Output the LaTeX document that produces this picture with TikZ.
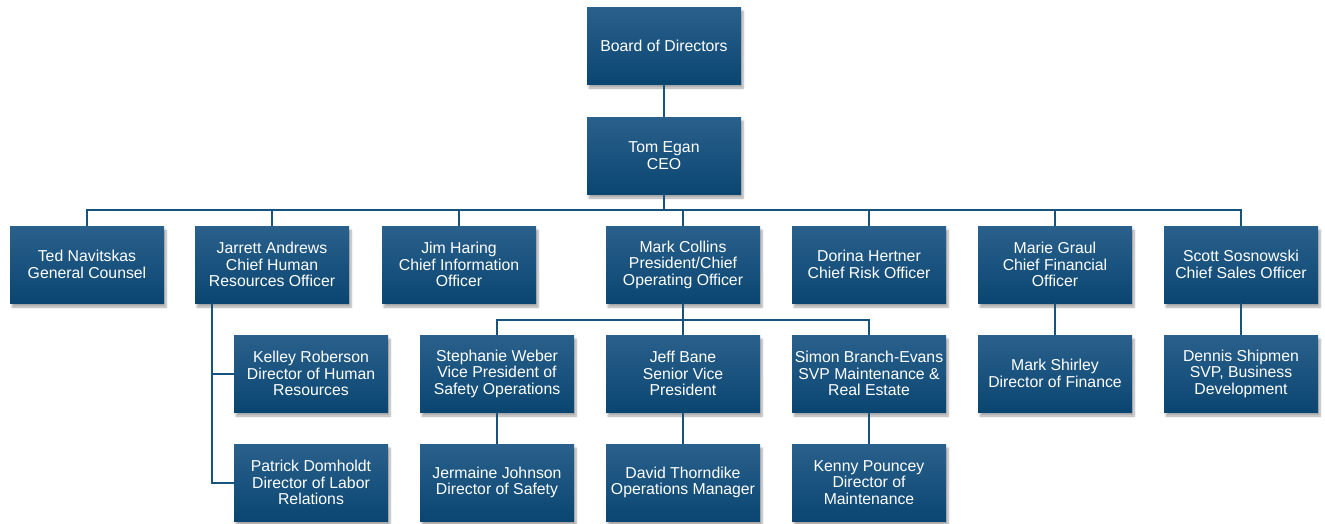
\documentclass[tikz,border=0pt]{standalone}
\usepackage{fontspec}
\setmainfont{Liberation Sans}
\usetikzlibrary{shadows.blur}

\definecolor{boxtop}{RGB}{42,96,140}
\definecolor{boxbottom}{RGB}{10,70,113}
\definecolor{linkblue}{RGB}{22,84,126}

\tikzset{
  staffbox/.style={rectangle, minimum width=154pt, minimum height=77pt,
    inner sep=1pt, align=center, text=white,
    top color=boxtop, bottom color=boxbottom,
    font=\fontsize{15.8}{16.5}\selectfont,
    blur shadow={shadow xshift=2pt, shadow yshift=-4pt, shadow blur steps=6, shadow opacity=35}},
  link/.style={draw=linkblue, line width=2pt}
}

\begin{document}
\begin{tikzpicture}[x=1pt,y=-1pt]

\useasboundingbox (0,0) rectangle (1325,523);

        % draw the top of the chart
        \node[staffbox] (board) at (664,45.5) {Board of Directors};
        \node[staffbox] (ceo)   at (664,155.5) {Tom Egan\\CEO};

        % draw the officers
        \node[staffbox] (ted)     at (87,264.5)   {Ted Navitskas\\General Counsel};
        \node[staffbox] (jarrett) at (272,264.5)  {Jarrett Andrews\\Chief Human\\Resources Officer};
        \node[staffbox] (jim)     at (459,264.5)  {Jim Haring\\Chief Information\\Officer};
        \node[staffbox] (mark)    at (683,264.5)  {Mark Collins\\President/Chief\\Operating Officer};
        \node[staffbox] (dorina)  at (869,264.5)  {Dorina Hertner\\Chief Risk Officer};
        \node[staffbox] (marie)   at (1055,264.5) {Marie Graul\\Chief Financial\\Officer};
        \node[staffbox] (scott)   at (1241,264.5) {Scott Sosnowski\\Chief Sales Officer};

        % draw the third row
        \node[staffbox] (kelley)    at (311,373.5)  {Kelley Roberson\\Director of Human\\Resources};
        \node[staffbox] (stephanie) at (497,373.5)  {Stephanie Weber\\Vice President of\\Safety Operations};
        \node[staffbox] (jeff)      at (683,373.5)  {Jeff Bane\\Senior Vice\\President};
        \node[staffbox] (simon)     at (869,373.5)  {Simon Branch-Evans\\SVP Maintenance \&\\Real Estate};
        \node[staffbox] (mshirley)  at (1055,373.5) {Mark Shirley\\Director of Finance};
        \node[staffbox] (dennis)    at (1241,373.5) {Dennis Shipmen\\SVP, Business\\Development};

        % draw the bottom row
        \node[staffbox] (patrick)  at (311,482.5) {Patrick Domholdt\\Director of Labor\\Relations};
        \node[staffbox] (jermaine) at (497,482.5) {Jermaine Johnson\\Director of Safety};
        \node[staffbox] (david)    at (683,482.5) {David Thorndike\\Operations Manager};
        \node[staffbox] (kenny)    at (869,482.5) {Kenny Pouncey\\Director of\\Maintenance};

        % the bus lines, placed by hand
        \coordinate (ceobus) at (664,210);
        \coordinate (hrtrunk) at (212,303);
        \coordinate (opsbus) at (683,320);

        % draw the connectors
        \draw[link] (board) -- (ceo);
        \draw[link] (ceo) -- (ceobus);
        \foreach \n in {ted,jarrett,jim,mark,dorina,marie,scott}
            \draw[link] (ceobus) -| (\n.north);
        \draw[link] (hrtrunk) |- (kelley.west);
        \draw[link] (hrtrunk) |- (patrick.west);
        \draw[link] (mark) -- (opsbus);
        \foreach \n in {stephanie,jeff,simon}
            \draw[link] (opsbus) -| (\n.north);
        \draw[link] (stephanie) -- (jermaine);
        \draw[link] (jeff) -- (david);
        \draw[link] (simon) -- (kenny);
        \draw[link] (marie) -- (mshirley);
        \draw[link] (scott) -- (dennis);

\end{tikzpicture}
\end{document}
